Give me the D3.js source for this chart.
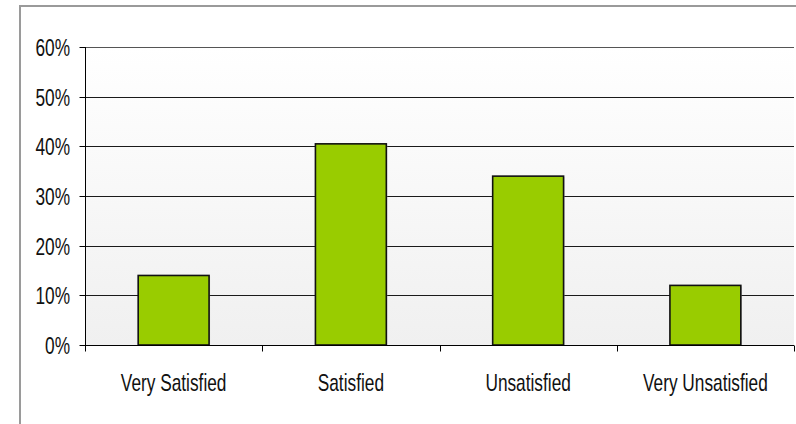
<!DOCTYPE html>
<html><head><meta charset="utf-8">
<script src="https://cdn.jsdelivr.net/npm/d3@7"></script>
<style>body{margin:0;background:#fff}svg{display:block}</style>
</head><body>
<script>
const categories = ["Very Satisfied", "Satisfied", "Unsatisfied", "Very Unsatisfied"];
const values = [0.14, 0.405, 0.34, 0.12];
const yTicks = [0, 0.1, 0.2, 0.3, 0.4, 0.5, 0.6];

(function () {
const W = 796, H = 424;
const svg = d3.select("body").append("svg").attr("width", W).attr("height", H);
const pL = 85, pR = 794, pT = 47, pB = 345;
const font = "'Liberation Sans', Arial, sans-serif";
const fs = 24, sx = 0.72;

const defs = svg.append("defs");
const g1 = defs.append("linearGradient").attr("id", "bg").attr("x1", 0).attr("y1", 0).attr("x2", 0).attr("y2", 1);
g1.append("stop").attr("offset", "0%").attr("stop-color", "#ffffff");
g1.append("stop").attr("offset", "100%").attr("stop-color", "#f0f0f0");

// outer frame
svg.append("rect").attr("x", 20).attr("y", 6).attr("width", 900).attr("height", 600)
  .attr("fill", "#fff").attr("stroke", "#9a9a9a").attr("stroke-width", 2);

const x = d3.scaleBand().domain(categories).range([pL, pR]).paddingInner(0.6).paddingOuter(0.3);
const xb = d3.scaleBand().domain(categories).range([pL, pR]);
const y = d3.scaleLinear().domain([0, 0.6]).range([pB, pT]);

svg.append("rect").attr("x", pL).attr("y", pT).attr("width", pR - pL).attr("height", pB - pT)
  .attr("fill", "url(#bg)");

// gridlines
svg.append("g").selectAll("line").data(yTicks.filter(d => d > 0)).join("line")
  .attr("x1", pL).attr("x2", pR).attr("y1", d => Math.round(y(d)) + 0.5).attr("y2", d => Math.round(y(d)) + 0.5)
  .attr("stroke", (d) => d === 0.6 ? "#555" : "#1a1a1a").attr("stroke-width", 1.2);

// y axis
const yAxis = d3.axisLeft(y).tickValues(yTicks).tickFormat(d3.format(".0%")).tickSize(6).tickPadding(9);
const ya = svg.append("g").attr("transform", `translate(${pL + 0.5},0)`).call(yAxis);
ya.select(".domain").attr("stroke", "#000").attr("d", `M0,${pT}V${pB}`);
ya.selectAll(".tick line").attr("stroke", "#000");
ya.selectAll(".tick").attr("transform", d => `translate(0,${Math.round(y(d)) + 0.5})`);
ya.selectAll("text").attr("font-family", font).attr("font-size", fs).attr("fill", "#111")
  .attr("x", 0).attr("dy", "0.35em").attr("transform", `translate(-15.5,0) scale(${sx},1)`);

// bars (shadow)
svg.append("g").selectAll("rect").data(values).join("rect")
  .attr("x", (d, i) => x(categories[i]) + 1).attr("y", d => y(d) + 1)
  .attr("width", x.bandwidth()).attr("height", d => pB - y(d))
  .attr("fill", "#bbb").attr("opacity", 0.6);
svg.append("g").selectAll("rect").data(values).join("rect")
  .attr("x", (d, i) => x(categories[i])).attr("y", d => y(d))
  .attr("width", x.bandwidth()).attr("height", d => pB - y(d))
  .attr("fill", "#99cc00").attr("stroke", "#111").attr("stroke-width", 1.6);

// x axis
const xa = svg.append("g").attr("transform", `translate(0,${pB + 0.5})`);
xa.append("line").attr("x1", pL).attr("x2", pR).attr("stroke", "#000");
const bounds = categories.map(c => xb(c)).concat([pR]);
xa.selectAll("line.tk").data(bounds).join("line").attr("class", "tk")
  .attr("x1", d => Math.round(d) + 0.5).attr("x2", d => Math.round(d) + 0.5).attr("y1", 0).attr("y2", 6).attr("stroke", "#000");
xa.selectAll("text").data(categories).join("text")
  .attr("transform", d => `translate(${xb(d) + xb.bandwidth() / 2},45) scale(${sx},1)`)
  .attr("text-anchor", "middle").attr("font-family", font).attr("font-size", fs).attr("fill", "#111")
  .text(d => d);
})();
</script>
</body></html>
